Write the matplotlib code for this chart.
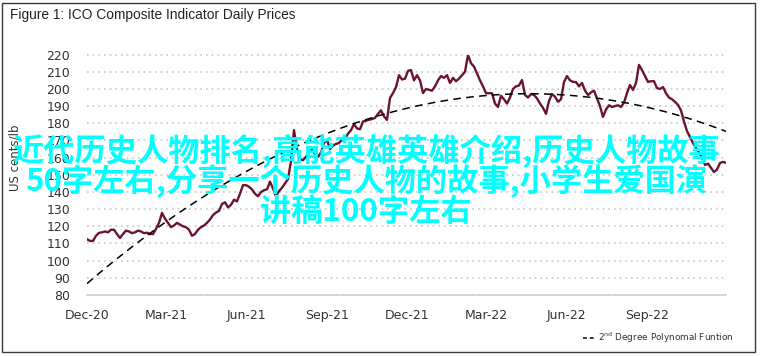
import numpy as np
import pandas as pd
import matplotlib
matplotlib.use("Agg")
import matplotlib.pyplot as plt
import matplotlib.dates as mdates
from matplotlib import font_manager
from matplotlib.lines import Line2D
from matplotlib.patches import Rectangle

# ICO composite indicator (US cents/lb), Dec 2020 - Nov 2022
start_date = "2020-12-01"
end_date = "2022-11-30"
price = [
    112.5, 111.5, 111.5, 114.5, 116.2, 116.5, 117, 116.5, 118, 118,
    115.5, 113.2, 115.5, 117.5, 117, 116, 116.5, 117.5, 117, 116,
    116.3, 115.5, 115.5, 118.5, 122, 127.8, 124.5, 122, 119.5, 120.5,
    122, 121, 120, 119.5, 118, 114.5, 115.5, 118, 119.5, 120.5,
    122, 124, 126.5, 128, 129, 133, 134, 131, 132.5, 135.5,
    134.5, 139, 144, 144, 143, 141.5, 139, 137.5, 140, 141,
    141.5, 146, 142, 137.5, 140.5, 142.5, 145, 147.5, 158, 176,
    165, 159, 158.5, 160.5, 163.5, 164.5, 162, 160.4, 163, 168.5,
    170.3, 165, 167, 168, 168.5, 170.5, 171, 174, 176, 179.5,
    177, 176.5, 181, 181.5, 182, 182.5, 183.1, 185.5, 187.5, 184,
    182, 194.7, 197.6, 201, 208, 205.5, 206, 210.5, 211, 205,
    208, 205, 197.6, 200, 199.5, 199, 201.5, 205, 207.5, 206.5,
    208, 203.5, 206.4, 204.5, 206, 208, 210, 219.8, 215, 213,
    209, 205, 201.5, 197.5, 197.5, 197.5, 191.5, 189.5, 196, 194,
    191.5, 195, 200, 201.5, 202, 205.2, 196.5, 195, 197, 196.5,
    194.5, 191.5, 189, 185.5, 193, 197, 195.5, 192.5, 194, 204,
    207.5, 205, 204.1, 204, 201.5, 203.5, 199, 196.5, 198, 199,
    194.5, 190, 183.7, 188, 190.5, 189.5, 190, 190.5, 189.5, 192,
    197.6, 202.3, 199.4, 203.5, 214, 211, 207.5, 204.1, 204.5, 204.5,
    200.5, 200, 201.1, 197.5, 195, 194, 192.5, 190.7, 187.5, 181,
    175.5, 172, 168.5, 165.5, 163, 160, 155.7, 156.5, 154, 151.6,
    153, 156.9, 157.5, 157,
]
y_ticks = list(range(80, 230, 10))

title = "Figure 1: ICO Composite Indicator Daily Prices"
y_label = "US cents/lb"
legend_label = "2$^{\\mathrm{nd}}$ Degree Polynomal Funtion"
overlay_lines = [
    "近代历史人物排名,高能英雄英雄介绍,历史人物故事",
    "50字左右,分享一个历史人物的故事,小学生爱国演",
    "讲稿100字左右",
]

installed = {f.name for f in font_manager.fontManager.ttflist}
narrow = "Liberation Sans Narrow" if "Liberation Sans Narrow" in installed else "DejaVu Sans"
plt.rcParams["font.family"] = [narrow, "DejaVu Sans"]
plt.rcParams["mathtext.default"] = "regular"

W, H = 762, 356
fig = plt.figure(figsize=(W / 100, H / 100), dpi=100)

# outer frame
fig.patches.append(Rectangle((2 / W, 4 / H), 753 / W, 349 / H, transform=fig.transFigure,
                             fill=False, edgecolor="#3a3a3a", linewidth=1.0))
fig.text(10 / W, 1 - 15 / H, title, fontsize=9.9, color="#222222", va="center",
         family=["Liberation Sans", "DejaVu Sans"])

ax = fig.add_axes([87 / W, 1 - 295 / H, 639 / W, 240.4 / H])
dates = pd.date_range(start_date, end_date, periods=len(price))
x_num = mdates.date2num(dates)

ax.plot(dates, price, color="#6a1530", linewidth=1.7, zorder=3)

# 2nd degree polynomial trend fitted on the series
coef = np.polyfit(x_num - x_num[0], price, 2)
trend = np.polyval(coef, x_num - x_num[0])
ax.plot(dates, trend, color="black", linewidth=1.1, dashes=(5, 3.5), zorder=4)

ax.set_xlim(dates[0], dates[-1])
ax.set_ylim(80, 220)
ax.set_yticks(y_ticks)
ax.xaxis.set_major_locator(mdates.MonthLocator(bymonth=[3, 6, 9, 12]))
ax.xaxis.set_major_formatter(mdates.DateFormatter("%b-%y"))
ax.tick_params(axis="both", length=0, labelsize=9, colors="#333333")
ax.tick_params(axis="y", pad=12)
ax.tick_params(axis="x", pad=10)
for s in ["top", "right", "left"]:
    ax.spines[s].set_visible(False)
ax.spines["bottom"].set_color("#d0d0d0")
ax.spines["bottom"].set_linewidth(1.2)
ax.yaxis.grid(True, color="#c8c8c8", linestyle=(0, (1, 2.4)), linewidth=1.2)
for gl in ax.get_ygridlines():
    gl.set_clip_on(False)
ax.set_axisbelow(True)

fig.text(15 / W, 1 - 158 / H, y_label, rotation=90, fontsize=8.5, color="#333333",
         va="center", ha="center")

# legend drawn at the bottom right
fig.lines.append(Line2D([583 / W, 594 / W], [1 - 338 / H] * 2, transform=fig.transFigure,
                        color="black", linewidth=1.1, dashes=(2.5, 2)))
fig.text(598 / W, 1 - 338 / H, legend_label, fontsize=6.4, color="#333333", va="center")

# cyan overlay text
cjk = ["Noto Sans CJK SC", "DejaVu Sans"]
for i, line in enumerate(overlay_lines):
    fig.text(366 / W, 1 - (150 + 31 * i) / H, line, fontsize=22.5, color="#00ffff",
             ha="center", va="center", family=cjk, fontweight="bold", zorder=10)

fig.savefig("out.png", dpi=100)
